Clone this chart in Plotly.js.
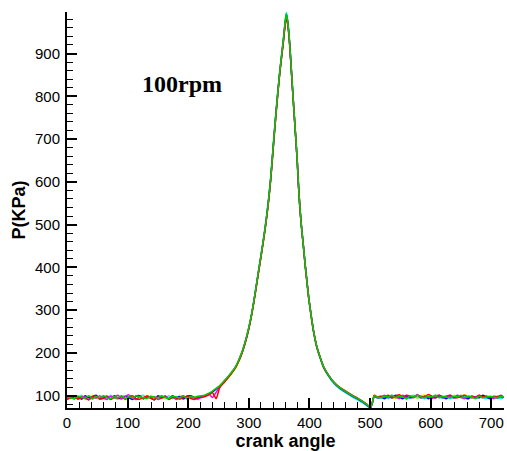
<!DOCTYPE html>
<html>
<head>
<meta charset="utf-8">
<script src="https://cdn.plot.ly/plotly-3.0.1.min.js"></script>
<style>
html,body{margin:0;padding:0;background:#fff;}
#chart{width:507px;height:451px;}
</style>
</head>
<body>
<div id="chart"></div>
<script>
// crank angle (deg)
const angle = [0,6,12,18,24,30,36,42,48,54,60,66,72,78,84,90,96,102,108,114,120,126,132,138,144,150,156,162,168,174,180,186,192,198,204,210,216,
222,228,234,240,246,252,258,264,270,276,
280,284,288,292,296,300,304,308,312,316,
320,324,327,330,333,336,339,342,345,348,
351,354,357,359,361,362,364,366,368,370,
372,374,376,378,380,382,384,386,388,390,
393,396,399,403,407,412,418,424,432,440,
448,456,464,472,480,488,494,498,501,504,
507,512,
518,524,530,536,542,548,554,560,566,572,578,584,590,596,602,608,614,620,626,632,638,644,650,656,662,668,674,680,686,692,698,704,710,716,720];

// pressure (KPa), one array per recorded cycle
const pYellow = [93,99,92,100,96,91,98,101,94,97,92,100,97,93,101,96,90,98,94,100,96,92,101,97,94,96,100,91,98,95,94,101,97,96,92,99,97,
97,99,104,110,116,121,129,139,148,159,
168,180,195,212,232,255,282,314,350,388,
423,460,490,522,559,603,655,709,760,809,
853,891,929,957,981,990,974,946,908,863,
818,774,731,688,643,588,543,506,476,447,
402,362,324,282,246,213,186,163,144,129,
119,111,104,97,91,84,78,74,72,86,
101,96,
99,95,101,97,93,102,99,95,97,101,93,99,102,95,97,101,99,93,97,95,101,99,95,102,97,93,99,97,101,95,97,99,93,97,95];

const pCyan = [99,93,100,95,101,93,98,92,100,95,98,93,101,95,92,98,100,94,96,91,98,101,94,99,96,92,98,95,100,93,98,95,92,100,96,93,99,
98,101,104,109,115,122,130,140,150,161,
171,184,198,215,235,258,286,318,354,391,
428,466,496,529,567,610,663,718,769,815,
858,896,934,962,987,996,978,950,911,866,
821,777,734,691,646,591,546,509,478,449,
403,363,325,283,247,213,186,163,144,129,
118,110,103,96,90,83,77,73,72,83,
98,95,
95,100,93,101,97,95,99,92,97,101,95,97,93,99,95,101,97,94,100,93,97,101,95,99,93,97,95,100,97,93,99,95,97,93,97];

const pBlue = [96,100,93,98,92,100,95,98,101,93,96,99,92,100,95,93,98,96,91,99,100,93,98,95,90,100,96,98,93,100,95,98,93,99,100,96,94,
99,100,104,109,116,122,131,140,150,162,
172,183,197,214,234,257,285,317,354,390,
426,463,493,526,563,606,659,713,764,811,
856,894,931,960,984,992,976,948,910,865,
820,776,733,690,645,590,545,508,478,450,
406,366,327,286,249,215,188,165,146,131,
120,112,105,98,92,85,79,74,72,84,
99,95,
97,93,99,95,101,97,93,99,95,97,101,95,99,93,97,95,100,97,93,101,95,97,99,95,93,99,97,95,101,97,93,97,95,99,95];

const pMagenta = [92,96,100,93,98,96,91,98,94,100,95,91,99,96,101,93,98,102,95,91,98,93,100,96,98,91,95,100,93,98,91,96,100,93,98,95,92,
97,99,104,96,108,121,131,141,152,163,
172,185,199,216,236,259,286,318,353,390,
427,463,492,525,562,605,657,711,762,810,
855,893,930,958,980,986,973,946,909,864,
819,776,733,690,645,590,546,509,479,451,
406,366,328,286,250,216,189,166,147,132,
121,113,106,99,93,86,80,75,73,85,
100,96,
97,101,95,99,97,93,101,95,99,97,103,95,99,97,93,99,101,95,97,99,95,101,97,93,99,95,97,101,95,99,97,93,99,97,95];

const pRed = [91,95,98,92,96,94,90,97,99,92,94,98,91,96,94,98,92,96,100,93,92,96,98,94,91,97,94,98,91,96,95,92,96,98,94,91,96,
96,98,102,107,93,119,129,139,150,161,
171,184,198,215,235,258,285,317,352,389,
424,461,491,523,560,604,656,710,761,808,
853,890,926,954,977,984,970,944,907,862,
818,775,732,689,645,590,545,508,478,450,
404,364,326,285,249,215,188,165,147,132,
122,114,107,100,94,87,81,76,74,86,
101,97,
99,97,101,95,99,102,97,101,99,95,101,99,97,103,99,95,101,97,99,101,97,95,99,101,97,99,95,101,97,99,95,99,97,101,97];

const pGreen = [98,95,93,99,97,94,100,93,98,95,100,96,93,98,95,100,93,98,95,100,98,95,93,99,97,95,100,96,93,99,97,95,100,93,98,96,99,
100,102,106,111,117,124,133,142,152,163,
173,186,200,217,237,260,287,319,355,392,
427,464,494,527,564,607,660,714,765,812,
857,895,932,961,986,993,977,949,911,866,
821,777,734,691,646,591,546,509,479,451,
405,365,327,286,250,216,189,166,147,132,
121,113,106,99,93,86,80,75,73,85,
100,97,
95,99,97,101,95,99,97,93,99,97,101,97,95,99,97,101,95,99,97,95,99,97,101,95,99,97,93,99,95,97,99,97,95,99,97];

const seriesList = [
  {y: pYellow, color: '#ffff00'},
  {y: pCyan, color: '#00ffff'},
  {y: pBlue, color: '#0000ff'},
  {y: pMagenta, color: '#ff00ff'},
  {y: pRed, color: '#ff0000'},
  {y: pGreen, color: '#00cc00'}
];
seriesList.forEach(s => { if (s.y.length !== angle.length) console.error('length mismatch', s.color, s.y.length, angle.length); });

const traces = seriesList.map(s => ({
  x: angle, y: s.y, type: 'scatter', mode: 'lines',
  line: {color: s.color, width: 1.5, shape: 'spline', smoothing: 0.6},
  showlegend: false, hoverinfo: 'skip'
}));

const axisCommon = {
  showgrid: false, zeroline: false, showline: true, linecolor: '#000', linewidth: 2,
  ticks: 'inside', ticklen: 10, tickwidth: 2, tickcolor: '#000',
  tickfont: {family: 'Liberation Sans, Arial, sans-serif', size: 15, color: '#000'},
  mirror: false
};

const layout = {
  width: 507, height: 451,
  margin: {l: 67, r: 3, t: 12, b: 43},
  paper_bgcolor: '#fff', plot_bgcolor: '#fff',
  xaxis: Object.assign({}, axisCommon, {
    range: [0, 721], tickmode: 'linear', tick0: 0, dtick: 100,
    minor: {dtick: 20, ticks: 'inside', ticklen: 6, tickwidth: 1, tickcolor: '#000', showgrid: false},
    ticklabelstandoff: 0,
    title: {text: 'crank angle', standoff: 3, font: {family: 'Liberation Sans, Arial, sans-serif', size: 18, weight: 'bold', color: '#000'}}
  }),
  yaxis: Object.assign({}, axisCommon, {
    range: [71.3, 997], tickmode: 'linear', tick0: 100, dtick: 100,
    minor: {dtick: 20, ticks: 'inside', ticklen: 6, tickwidth: 1, tickcolor: '#000', showgrid: false},
    ticklabelstandoff: 2,
    title: {text: 'P(KPa)', standoff: 5, font: {family: 'Liberation Sans, Arial, sans-serif', size: 18, weight: 'bold', color: '#000'}}
  }),
  annotations: [{
    text: '100rpm', xref: 'paper', yref: 'paper', x: 0.264, y: 0.817,
    xanchor: 'center', yanchor: 'middle', showarrow: false,
    font: {family: 'Liberation Serif, Times New Roman, serif', size: 24, weight: 'bold', color: '#000'}
  }]
};

Plotly.newPlot('chart', traces, layout, {displayModeBar: false, staticPlot: true});
</script>
</body>
</html>
